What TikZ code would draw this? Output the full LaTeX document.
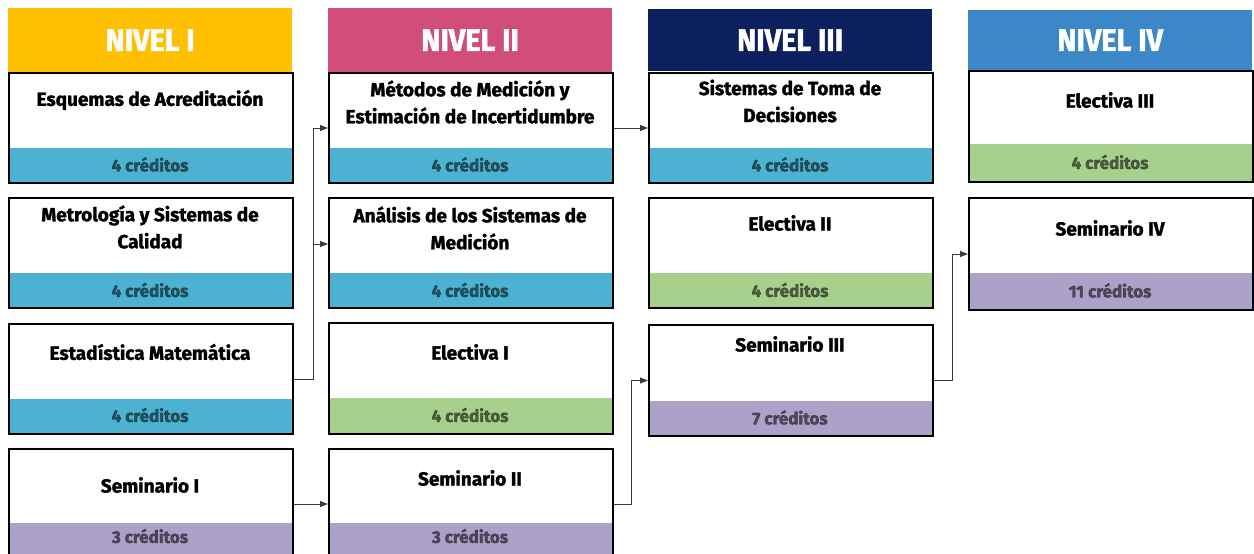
\documentclass[tikz,border=0pt]{standalone}
\usepackage{fontspec}
\setmainfont{Fira Sans}[BoldFeatures={FakeBold=1.6}]
\newfontfamily\hdrfont{Fira Sans}[FakeStretch=0.93, BoldFeatures={FakeBold=1.6}]
\usetikzlibrary{arrows.meta,calc}
\definecolor{cyel}{HTML}{FFC000}
\definecolor{cpink}{HTML}{D04E78}
\definecolor{cnavy}{HTML}{0C2060}
\definecolor{cblue}{HTML}{3C87C7}
\definecolor{bblue}{HTML}{4DB2D2}
\definecolor{bgreen}{HTML}{A8D08D}
\definecolor{bpurple}{HTML}{ADA0C9}
\definecolor{cline}{HTML}{3A3A3A}
\begin{document}
\begin{tikzpicture}[x=1pt,y=-1pt,
  header/.style={fill=#1, text=white, font=\hdrfont\bfseries\fontsize{31}{31}\selectfont,
    inner sep=0pt, minimum width=284pt, anchor=north west},
  course/.style 2 args={draw=black, line width=2pt, fill=white, inner sep=0pt,
    minimum width=284pt, anchor=north west,
    path picture={\fill[#1] ([yshift=#2]path picture bounding box.south west)
      rectangle (path picture bounding box.south east);}},
  title/.style={font=\bfseries\fontsize{19}{27}\selectfont, align=center, text=black, inner sep=0pt},
  credit/.style={font=\bfseries\fontsize{17}{17}\selectfont, text=black, text opacity=0.55, inner sep=0pt},
  conn/.style={draw=cline, line width=0.9pt, -{Triangle[length=8pt,width=6pt]}}]
\useasboundingbox (0,0) rectangle (1254,554);

% headers
\node[header=cyel,   minimum height=64pt] (h1) at (8,8)   {NIVEL I};
\node[header=cpink,  minimum height=64pt] (h2) at (328,8) {NIVEL II};
\node[header=cnavy,  minimum height=62pt] (h3) at (648,9) {NIVEL III};
\node[header=cblue,  minimum height=60pt] (h4) at (968,10) {NIVEL IV};

% column 1
\node[course={bblue}{35pt},   minimum height=110pt] (b11) at (8,72)  {};
\node[course={bblue}{35pt},   minimum height=110pt] (b12) at (8,197) {};
\node[course={bblue}{35pt},   minimum height=110pt] (b13) at (8,323) {};
\node[course={bpurple}{36pt}, minimum height=110pt] (b14) at (8,448) {};
% column 2
\node[course={bblue}{35pt},   minimum height=110pt] (b21) at (328,72)  {};
\node[course={bblue}{35pt},   minimum height=110pt] (b22) at (328,197) {};
\node[course={bgreen}{36pt},  minimum height=111pt] (b23) at (328,322) {};
\node[course={bpurple}{36pt}, minimum height=110pt] (b24) at (328,448) {};
% column 3
\node[course={bblue}{35pt},   minimum height=110pt] (b31) at (648,72)  {};
\node[course={bgreen}{35pt},  minimum height=110pt] (b32) at (648,197) {};
\node[course={bpurple}{35pt}, minimum height=111pt] (b33) at (648,324) {};
% column 4
\node[course={bgreen}{38pt},  minimum height=111pt] (b41) at (968,70)  {};
\node[course={bpurple}{37pt}, minimum height=112pt] (b42) at (968,197) {};

% connectors
\coordinate (j1) at ($(b13.east)+(19,0)$);
\draw[conn] (b13.east) -- (j1) |- (b21.west);
\draw[conn] (j1) |- ([yshift=9pt]b22.west);
\draw[conn] (b14.east) -- (b24.west);
\draw[conn] (b21.east) -- (b31.west);
\coordinate (j2) at ($(b24.east)+(17,0)$);
\draw[conn] (b24.east) -- (j2) |- (b33.west);
\coordinate (j3) at ($(b33.east)+(18,0)$);
\draw[conn] (b33.east) -- (j3) |- (b42.west);

% titles
\node[title] (t11) at (150,100) {Esquemas de Acreditación};
\node[title] (t12) at (150,227) {Metrología y Sistemas de\\Calidad};
\node[title] (t13) at (150,352) {Estadística Matemática};
\node[title] (t14) at (150,485) {Seminario I};
\node[title] (t21) at (470,102) {Métodos de Medición y\\Estimación de Incertidumbre};
\node[title] (t22) at (470,228) {Análisis de los Sistemas de\\Medición};
\node[title] (t23) at (470,352) {Electiva I};
\node[title] (t24) at (470,478) {Seminario II};
\node[title] (t31) at (790,101) {Sistemas de Toma de\\Decisiones};
\node[title] (t32) at (790,223) {Electiva II};
\node[title] (t33) at (790,344) {Seminario III};
\node[title] (t41) at (1110,100) {Electiva III};
\node[title] (t42) at (1110,228) {Seminario IV};

% credits
\node[credit] (k11) at (150,164.5) {4 créditos};
\node[credit] (k12) at (150,290) {4 créditos};
\node[credit] (k13) at (150,415) {4 créditos};
\node[credit] (k14) at (150,536) {3 créditos};
\node[credit] (k21) at (470,164.5) {4 créditos};
\node[credit] (k22) at (470,290) {4 créditos};
\node[credit] (k23) at (470,415) {4 créditos};
\node[credit] (k24) at (470,536) {3 créditos};
\node[credit] (k31) at (790,164.5) {4 créditos};
\node[credit] (k32) at (790,290) {4 créditos};
\node[credit] (k33) at (790,417.5) {7 créditos};
\node[credit] (k41) at (1110,162) {4 créditos};
\node[credit] (k42) at (1110,290.5) {11 créditos};
\end{tikzpicture}
\end{document}
